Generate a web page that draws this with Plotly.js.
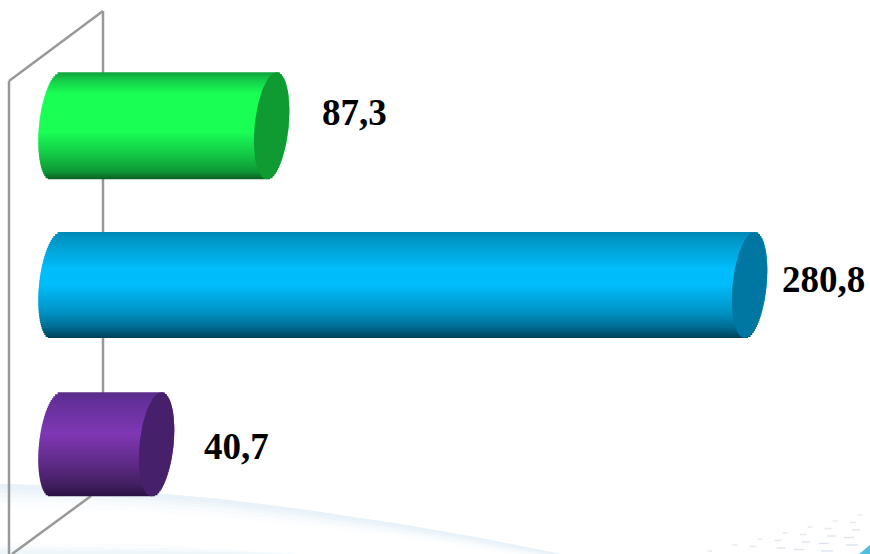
<!DOCTYPE html>
<html>
<head>
<meta charset="utf-8">
<script src="https://cdn.plot.ly/plotly-3.0.1.min.js"></script>
<style>html,body{margin:0;padding:0;background:#fff;overflow:hidden}</style>
</head>
<body>
<div id="chart" style="width:870px;height:554px"></div>
<script>
// Data, top to bottom in the picture
const values = [87.3, 280.8, 40.7];
const valueLabels = ["87,3", "280,8", "40,7"];
const rowPositions = [2, 1, 0];

// Style
const gradientStops = [
  [[0,"#10a03c"],[.06,"#14c748"],[.2,"#1aff55"],[.55,"#1aff55"],[.8,"#12c043"],[.93,"#0e9635"],[1,"#0a5f24"]],
  [[0,"#0088b6"],[.08,"#0098c8"],[.35,"#00bcfa"],[.5,"#00bcfa"],[.75,"#0094c6"],[.9,"#006b90"],[1,"#003f58"]],
  [[0,"#5b2c8a"],[.1,"#64309a"],[.4,"#8037b4"],[.7,"#5c2a84"],[.88,"#432063"],[1,"#2a1242"]]
];
const capColors = ["#0f9a32", "#0077a3", "#47206b"];
const labelShift = [[31,13],[13.5,6],[28,-2]];
const rowHeightsPx = [107, 106, 104];

// Scales (page has no margin, so pixels map straight on to the axes)
const W = 870, H = 554;
const pxPerUnit = 2.47, zeroPx = 56;
const rowGap = 159.25, row0Px = 444.25;
const xRange = [-zeroPx/pxPerUnit, (W-zeroPx)/pxPerUnit];
const yRange = [-(H-row0Px)/rowGap, row0Px/rowGap];
const barHeights = rowHeightsPx.map(h=>h/rowGap);
const capA = 17/pxPerUnit, tilt = 5/pxPerUnit;
const BANDS = 53;

function hex(c){return [1,3,5].map(i=>parseInt(c.substr(i,2),16));}
function ramp(stops,t){
  for(let i=1;i<stops.length;i++){
    if(t<=stops[i][0]){
      const f=(t-stops[i-1][0])/(stops[i][0]-stops[i-1][0]);
      const a=hex(stops[i-1][1]),b=hex(stops[i][1]);
      return "rgb("+a.map((v,k)=>Math.round(v+(b[k]-v)*f)).join(",")+")";
    }
  }
  return stops[stops.length-1][1];
}

const traces = [];
for(let b=0;b<BANDS;b++){
  const t=(b+.5)/BANDS, v=1-2*t;           // v: +1 top edge, -1 bottom edge
  const half=capA*Math.sqrt(Math.max(0,1-v*v));
  const span=b===BANDS-1?1:1.5;            // overlap the next band so no seams show
  traces.push({
    type:"bar",orientation:"h",
    y:rowPositions,
    base:values.map(()=>v*tilt-half),
    x:values.map(val=>val+2*half),
    width:barHeights.map(h=>h/BANDS*span),
    offset:barHeights.map(h=>h/2-(b+span)*h/BANDS),
    marker:{color:gradientStops.map(s=>ramp(s,t)),line:{width:0}},
    hoverinfo:"skip",showlegend:false
  });
}
values.forEach((val,i)=>{
  const xs=[],ys=[];
  for(let a=0;a<=72;a++){
    const th=a/72*2*Math.PI, s=Math.sin(th);
    xs.push(val+capA*Math.cos(th)+tilt*s);
    ys.push(rowPositions[i]+s*barHeights[i]/2);
  }
  traces.push({type:"scatter",mode:"lines",x:xs,y:ys,fill:"toself",fillcolor:capColors[i],
    line:{width:0,color:capColors[i]},hoverinfo:"skip",showlegend:false});
});

const annotations = values.map((val,i)=>({
  x:val,y:rowPositions[i],xref:"x",yref:"y",text:valueLabels[i],showarrow:false,
  xanchor:"left",yanchor:"middle",xshift:labelShift[i][0]+17,yshift:labelShift[i][1],
  font:{family:"Liberation Serif",size:37,color:"#000",weight:700}
}));

// Page furniture, in page fractions
const px=x=>x/W, py=y=>1-y/H;
function pagePath(points){
  return "M"+points.map(p=>px(p[0]).toFixed(4)+","+py(p[1]).toFixed(4)).join("L")+"Z";
}
const shapes=[];
const swoosh=[[0,484],[60,486],[130,491],[220,499],[300,509],[400,524],[480,538],[560,554]];
// Each layer hangs below the curve by a depth that narrows towards the right
[[24,"#fcfdfe"],[18,"#f8fbfd"],[13,"#f3f8fb"],[9,"#edf5fa"],[5,"#e8f2f8"]].forEach(l=>{
  const bottom=swoosh.slice().reverse().map(p=>[p[0],p[1]+l[0]*(1-p[0]/900)]);
  shapes.push({type:"path",xref:"paper",yref:"paper",layer:"below",line:{width:0},fillcolor:l[1],
    path:pagePath(swoosh.concat(bottom))});
});
[[543,"#fafcfe"],[547,"#f4f9fc"],[550,"#eef6fa"]].forEach(l=>{
  shapes.push({type:"path",xref:"paper",yref:"paper",layer:"below",line:{width:0},fillcolor:l[1],
    path:pagePath([[0,l[0]],[150,l[0]+1],[300,554],[0,554]])});
});
for(let i=0;i<9;i++)for(let j=0;j<6;j++){
  const x=860-25*i-2*j-(j%2)*5, y=515+6*i+7.5*j;
  if(y>552||x<655)continue;
  const w=2.5+j*.9;
  shapes.push({type:"rect",xref:"paper",yref:"paper",layer:"below",line:{width:0},
    fillcolor:"#d3dee9",opacity:.6+j*.06,
    x0:px(x-w),x1:px(x+w),y0:py(y+.7),y1:py(y-.7)});
}
shapes.push({type:"path",xref:"paper",yref:"paper",layer:"below",line:{width:0},fillcolor:"#4cc0dc",
  path:pagePath([[859,554],[870,545],[870,554]])});
const wall="#999999";
[[[9,554],[9,81]],[[9,81],[103,11]],[[103,11],[103,400]],[[91,496],[12,554]]].forEach(s=>{
  shapes.push({type:"line",xref:"paper",yref:"paper",layer:"below",line:{color:wall,width:2.5},
    x0:px(s[0][0]),y0:py(s[0][1]),x1:px(s[1][0]),y1:py(s[1][1])});
});

const layout={
  width:W,height:H,margin:{l:0,r:0,t:0,b:0},
  paper_bgcolor:"#fff",plot_bgcolor:"rgba(0,0,0,0)",
  barmode:"overlay",showlegend:false,
  xaxis:{range:xRange,visible:false,fixedrange:true},
  yaxis:{range:yRange,visible:false,fixedrange:true},
  annotations,shapes
};
Plotly.newPlot("chart",traces,layout,{displayModeBar:false,staticPlot:true});
</script>
</body>
</html>
